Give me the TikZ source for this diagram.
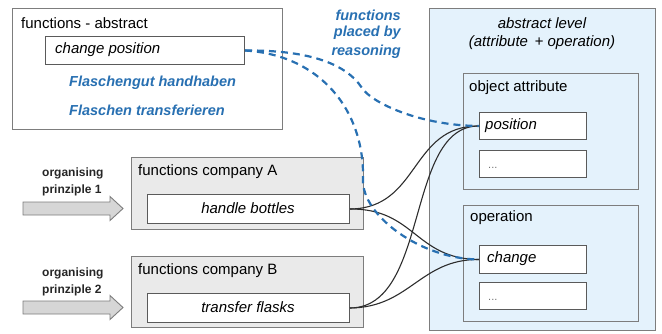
\documentclass[tikz,border=0pt]{standalone}
\usepackage{fontspec}
\setmainfont{Liberation Sans}
\definecolor{boxgray}{RGB}{125,125,125}
\definecolor{innerline}{RGB}{90,90,90}
\definecolor{levelfill}{RGB}{228,242,252}
\definecolor{companyfill}{RGB}{234,234,234}
\definecolor{arrowfill}{RGB}{214,214,214}
\definecolor{reasonblue}{RGB}{40,112,178}
\definecolor{linkgray}{RGB}{45,45,45}
\begin{document}
\begin{tikzpicture}[x=1pt,y=-1pt,
  frame/.style={draw=boxgray, line width=1.2pt, inner sep=0pt, anchor=north west},
  slot/.style={draw=innerline, fill=white, line width=1pt, inner sep=0pt, anchor=north west},
  title/.style={inner sep=0pt, anchor=west, text=black, font=\fontsize{15}{18}\selectfont},
  itl/.style={inner sep=0pt, text=black, font=\fontsize{15}{18}\selectfont\itshape},
  bluetxt/.style={inner sep=0pt, text=reasonblue, font=\fontsize{14.5}{18}\selectfont\bfseries\itshape},
  princ/.style={inner sep=0pt, anchor=west, text=black!85, font=\fontsize{12}{14}\selectfont\bfseries},
  dots/.style={inner sep=0pt, anchor=base west, text=black!55, font=\fontsize{11}{13}\selectfont},
  blockarrow/.style={draw=boxgray, fill=arrowfill, line width=0.9pt, line join=miter},
  link/.style={draw=linkgray, line width=1.1pt},
  reasoned/.style={draw=reasonblue, line width=2.2pt, dash pattern=on 7pt off 5pt}
]
\useasboundingbox (0,0) rectangle (662,333);

% ---- abstract functions (top left) ----
\node[frame, fill=white, minimum width=270pt, minimum height=121pt] (fabs) at (12,8) {};
\node[title] (fabsT) at (21,23) {functions - abstract};
\node[slot, minimum width=199pt, minimum height=28pt] (cpos) at (45,36) {};
\node[itl, anchor=west] (cposT) at (55,50) {change position};
\node[bluetxt, anchor=west] (de1) at (69,83) {Flaschengut handhaben};
\node[bluetxt, anchor=west] (de2) at (69,110) {Flaschen transferieren};

% ---- note on the dashed links ----
\node[bluetxt, anchor=east] (r1) at (401,15) {functions};
\node[bluetxt, anchor=east] (r2) at (401,33) {placed by};
\node[bluetxt, anchor=east] (r3) at (401,52) {reasoning};

% ---- abstract level (right) ----
\node[frame, fill=levelfill, minimum width=226pt, minimum height=322pt] (lvl) at (429,8) {};
\node[itl] (lvlT1) at (542,23) {abstract level};
\node[itl] (lvlT2) at (542,43) {(attribute \,+ operation)};

\node[frame, fill=levelfill, minimum width=175pt, minimum height=116pt] (oattr) at (463,73) {};
\node[title] (oattrT) at (469,88) {object attribute};
\node[slot, minimum width=107pt, minimum height=27pt] (pos) at (479,112) {};
\node[itl, anchor=west] (posT) at (485,125.5) {position};
\node[slot, minimum width=107pt, minimum height=27pt] (more1) at (479,150) {};
\node[dots] (more1T) at (488,168) {...};

\node[frame, fill=levelfill, minimum width=175pt, minimum height=116pt] (oper) at (463,205) {};
\node[title] (operT) at (470,218) {operation};
\node[slot, minimum width=107pt, minimum height=28pt] (chg) at (479,245) {};
\node[itl, anchor=west] (chgT) at (487,259) {change};
\node[slot, minimum width=107pt, minimum height=27pt] (more2) at (479,282) {};
\node[dots] (more2T) at (488,300) {...};

% ---- company functions (left) ----
\node[frame, fill=companyfill, minimum width=232pt, minimum height=72pt] (compA) at (131,157) {};
\node[title] (compAT) at (138,172) {functions company A};
\node[slot, minimum width=202pt, minimum height=29pt] (hb) at (147,194) {};
\node[itl] (hbT) at (248,208.5) {handle bottles};

\node[frame, fill=companyfill, minimum width=232pt, minimum height=71pt] (compB) at (131,256) {};
\node[title] (compBT) at (138,271) {functions company B};
\node[slot, minimum width=202pt, minimum height=29pt] (tf) at (147,293) {};
\node[itl] (tfT) at (248,307.5) {transfer flasks};

% ---- organising principles ----
\node[princ] (p1a) at (42,173) {organising};
\node[princ] (p1b) at (42,190) {prinziple 1};
\draw[blockarrow] (23,202) -- (110,202) -- (110,196.5) -- (123,208.5) -- (110,220.5) -- (110,215) -- (23,215) -- cycle;
\node[princ] (p2a) at (42,273) {organising};
\node[princ] (p2b) at (42,290) {prinziple 2};
\draw[blockarrow] (23,301) -- (110,301) -- (110,295.5) -- (123,307.5) -- (110,319.5) -- (110,314) -- (23,314) -- cycle;

% ---- links from company functions to the abstract level ----
\draw[link] (hb.east) .. controls (420,208.5) and (410,125.5) .. (pos.west);
\draw[link] (hb.east) .. controls (415,208.5) and (415,259) .. (chg.west);
\draw[link] (tf.east) .. controls (430,307.5) and (405,125.5) .. (pos.west);
\draw[link] (tf.east) .. controls (410,307.5) and (420,259) .. (chg.west);

% ---- links placed by reasoning ----
\draw[reasoned] (cpos.east) .. controls (305,50) and (345,62) .. (362,88)
                .. controls (372,103) and (420,125.5) .. (pos.west);
\draw[reasoned] (cpos.east) .. controls (320,55) and (365,110) .. (363,180)
                .. controls (362,215) and (420,259) .. (chg.west);
\end{tikzpicture}
\end{document}
